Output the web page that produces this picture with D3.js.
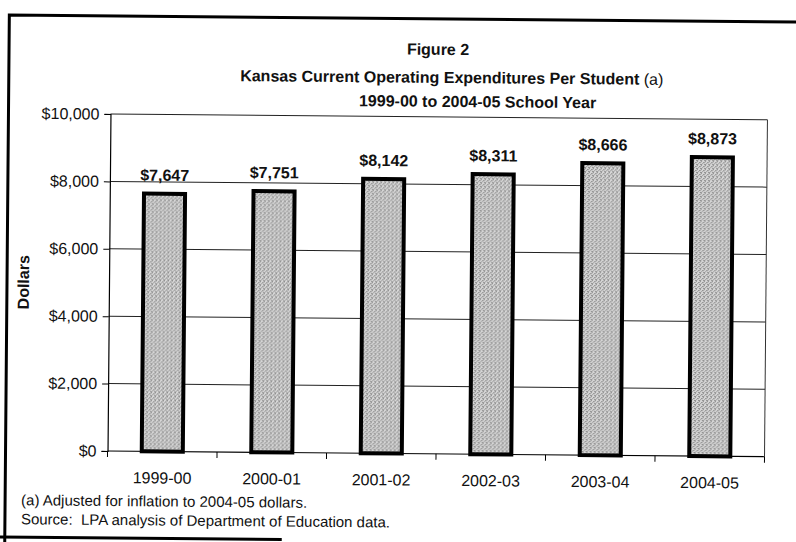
<!DOCTYPE html>
<html>
<head>
<meta charset="utf-8">
<script src="https://cdn.jsdelivr.net/npm/d3@7"></script>
<style>
  html, body { margin: 0; padding: 0; background: #fff; }
  svg { display: block; }
  text { font-family: "Liberation Sans", Arial, sans-serif; fill: #111; white-space: pre; }
</style>
</head>
<body>
<svg id="chart" width="796" height="542"></svg>
<script>
// School years and per-student spending (2004-05 dollars)
const years = ["1999-00", "2000-01", "2001-02", "2002-03", "2003-04", "2004-05"];
const spending = [7647, 7751, 8142, 8311, 8666, 8873];
const yTicks = [0, 2000, 4000, 6000, 8000, 10000];
const titleLines = ["Figure 2", "Kansas Current Operating Expenditures Per Student", "1999-00 to 2004-05 School Year"];
const notes = ["(a) Adjusted for inflation to 2004-05 dollars.", "Source:  LPA analysis of Department of Education data."];

const plot = { left: 109, right: 766, top: 114, bottom: 451 };

// The printed page sits slightly askew; the whole figure is turned half a degree
const svg = d3.select("#chart").append("g")
  .attr("transform", `rotate(0.5, ${plot.left}, 283)`);

// Stippled grey fill for the bars
const defs = d3.select("#chart").append("defs");
const pat = defs.append("pattern")
  .attr("id", "stipple").attr("width", 4).attr("height", 4)
  .attr("patternUnits", "userSpaceOnUse");
pat.append("rect").attr("width", 4).attr("height", 4).attr("fill", "#d6d6d6");
[[0, 0], [2, 1], [1, 2], [3, 3], [3, 1], [0, 3]].forEach(([px, py], i) => {
  pat.append("rect").attr("x", px).attr("y", py).attr("width", 1).attr("height", 1)
    .attr("fill", i % 2 ? "#858585" : "#9c9c9c");
});

const x = d3.scaleBand().domain(years)
  .range([plot.left, plot.right])
  .paddingInner(0.625).paddingOuter(0.3125);
const y = d3.scaleLinear().domain([0, 10000]).range([plot.bottom, plot.top]);

// Outer frame
svg.append("path").attr("d", "M7,545 L7,16 L810,16")
  .attr("fill", "none").attr("stroke", "#000").attr("stroke-width", 3);
svg.append("line").attr("x1", -5).attr("x2", 284).attr("y1", 538).attr("y2", 538)
  .attr("stroke", "#000").attr("stroke-width", 3);

// Gridlines
svg.append("g").selectAll("line").data(yTicks.filter(d => d > 0)).join("line")
  .attr("x1", plot.left).attr("x2", plot.right)
  .attr("y1", d => y(d)).attr("y2", d => y(d))
  .attr("stroke", "#222").attr("stroke-width", 1);

// Right border of plot area
svg.append("line").attr("x1", plot.right).attr("x2", plot.right)
  .attr("y1", plot.top).attr("y2", plot.bottom)
  .attr("stroke", "#333").attr("stroke-width", 1);

// Y axis
const yAxis = svg.append("g").attr("transform", `translate(${plot.left},0)`)
  .call(d3.axisLeft(y).tickValues(yTicks).tickFormat(d3.format("$,")).tickSize(6).tickPadding(5));
yAxis.select(".domain").attr("stroke", "#000").attr("stroke-width", 1.2);
yAxis.selectAll(".tick line").attr("stroke", "#000");
yAxis.selectAll(".tick text").style("font-size", "16px")
  .style("font-family", "'Liberation Sans', Arial, sans-serif").attr("fill", "#111");

// Bars
svg.append("g").selectAll("rect").data(years).join("rect")
  .attr("x", d => x(d))
  .attr("y", (d, i) => y(spending[i]))
  .attr("width", x.bandwidth())
  .attr("height", (d, i) => y(0) - y(spending[i]))
  .attr("fill", "url(#stipple)")
  .attr("stroke", "#000").attr("stroke-width", 4);

// X axis: baseline with ticks between categories
const step = x.step();
const bounds = years.map(d => x(d) - step * x.paddingInner() / 2).concat([plot.right]);
svg.append("line").attr("x1", plot.left).attr("x2", plot.right)
  .attr("y1", plot.bottom).attr("y2", plot.bottom)
  .attr("stroke", "#000").attr("stroke-width", 1.2);
svg.append("g").selectAll("line").data(bounds).join("line")
  .attr("x1", d => d).attr("x2", d => d)
  .attr("y1", plot.bottom).attr("y2", plot.bottom + 6)
  .attr("stroke", "#000");
svg.append("g").selectAll("text").data(years).join("text")
  .attr("x", d => x(d) + x.bandwidth() / 2)
  .attr("y", 483)
  .attr("text-anchor", "middle")
  .style("font-size", "16px")
  .text(d => d);

// Value labels
const fmt = d3.format("$,");
svg.append("g").selectAll("text").data(years).join("text")
  .attr("x", d => x(d) + x.bandwidth() / 2)
  .attr("y", (d, i) => y(spending[i]) - 13)
  .attr("text-anchor", "middle")
  .style("font-size", "16px").style("font-weight", "bold")
  .text((d, i) => fmt(spending[i]));

// Titles
svg.append("text").attr("x", 436).attr("y", 52).attr("text-anchor", "middle")
  .style("font-size", "16px").style("font-weight", "bold").text(titleLines[0]);
const t2 = svg.append("text").attr("x", 450).attr("y", 80).attr("text-anchor", "middle")
  .style("font-size", "16px");
t2.append("tspan").style("font-weight", "bold").text(titleLines[1]);
t2.append("tspan").text(" (a)");
svg.append("text").attr("x", 476).attr("y", 104).attr("text-anchor", "middle")
  .style("font-size", "16px").style("font-weight", "bold").text(titleLines[2]);

// Y axis title
svg.append("text").attr("transform", "translate(29,283) rotate(-90)")
  .attr("text-anchor", "middle")
  .style("font-size", "16px").style("font-weight", "bold").text("Dollars");

// Footnotes
svg.append("g").selectAll("text").data(notes).join("text")
  .attr("x", 23).attr("y", (d, i) => 506 + i * 19)
  .style("font-size", "15px")
  .text(d => d);
</script>
</body>
</html>
